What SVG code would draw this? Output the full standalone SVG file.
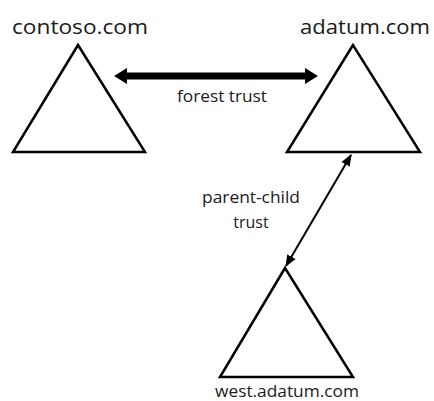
<svg xmlns="http://www.w3.org/2000/svg" width="434" height="401" viewBox="0 0 434 401">
<defs>
<style>
.tri{fill:#fff;stroke:#000;stroke-width:2.5;stroke-linejoin:miter}
.lbl{font-family:"Open Sans","Liberation Sans",sans-serif;fill:#1a1a1a;text-anchor:middle}
.big{font-size:20px}
.small{font-size:16px}
</style>
<marker id="thinHead" viewBox="0 0 10 10" refX="9" refY="5" markerWidth="6" markerHeight="6" orient="auto-start-reverse" markerUnits="strokeWidth">
<path d="M0,1 L10,5 L0,9 z" fill="#000"/>
</marker>
</defs>
<rect width="434" height="401" fill="#fff"/>
<g id="contoso">
<polygon class="tri" points="78,45 13,152 145,152"/>
<text class="lbl big" x="80" y="34" textLength="136" lengthAdjust="spacingAndGlyphs">contoso.com</text>
</g>
<g id="adatum">
<polygon class="tri" points="353,45 287,152 420,152"/>
<text class="lbl big" x="365" y="34" textLength="130" lengthAdjust="spacingAndGlyphs">adatum.com</text>
</g>
<g id="west-adatum">
<polygon class="tri" points="285,268 220,377 353,377"/>
<text class="lbl small" x="287" y="397" textLength="144" lengthAdjust="spacingAndGlyphs">west.adatum.com</text>
</g>
<g id="connectors">
<g id="forest-trust">
<line x1="126" y1="76" x2="306" y2="76" stroke="#000" stroke-width="7"/>
<polygon points="114,76 127,68 127,84" fill="#000"/>
<polygon points="318,76 305,68 305,84" fill="#000"/>
<text class="lbl small" x="222" y="102" textLength="90" lengthAdjust="spacingAndGlyphs">forest trust</text>
</g>
<g id="parent-child-trust">
<line x1="351" y1="155" x2="286" y2="266" stroke="#000" stroke-width="2" marker-start="url(#thinHead)" marker-end="url(#thinHead)"/>
<text class="lbl small" x="251" y="203" textLength="98" lengthAdjust="spacingAndGlyphs">parent-child</text>
<text class="lbl small" x="251" y="228">trust</text>
</g>
</g>
</svg>
